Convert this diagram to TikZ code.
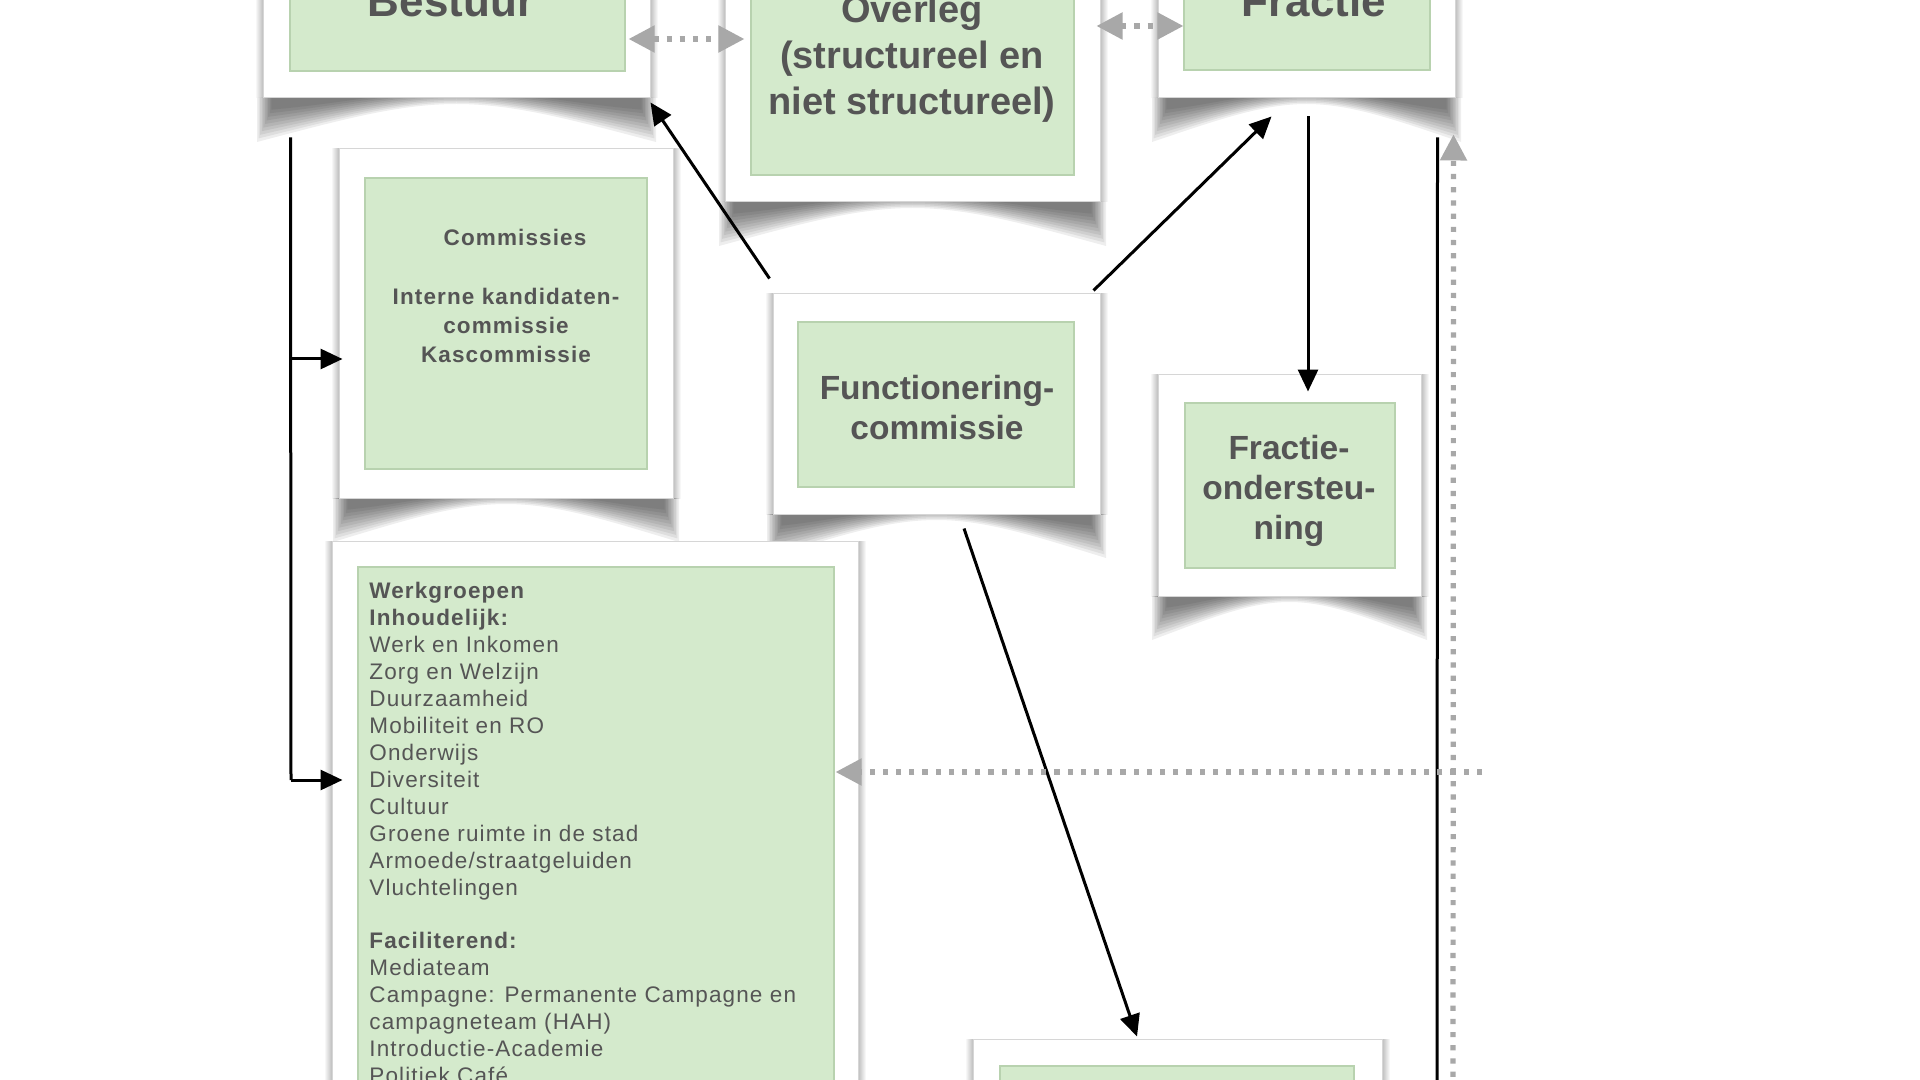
\documentclass[tikz,border=0pt]{standalone}
\usepackage{fontspec}
\setmainfont{Liberation Sans}
\newfontfamily\trackfont[LetterSpace=5]{Liberation Sans}
\usetikzlibrary{arrows.meta,calc,fit}
\definecolor{boxgreen}{HTML}{D4EACC}
\definecolor{boxgreenedge}{HTML}{B8D2AF}
\definecolor{txtgray}{HTML}{555555}
\definecolor{dotgray}{HTML}{A8A8A8}
\tikzset{
  outerbox/.style={draw=black!16, line width=0.5pt, fill=white, inner sep=0pt},
  greenbox/.style={draw=boxgreenedge, line width=0.6pt, fill=boxgreen, inner sep=0pt},
  headtext/.style={text=txtgray, inner sep=0pt, font=\bfseries\fontsize{22pt}{26pt}\selectfont},
  overtext/.style={text=txtgray, inner sep=0pt, align=center, font=\bfseries\fontsize{19pt}{23pt}\selectfont},
  midtext/.style={text=txtgray, inner sep=0pt, align=center, font=\bfseries\fontsize{16.75pt}{20pt}\selectfont},
  smalltext/.style={text=txtgray, inner sep=0pt, align=center, font=\trackfont\bfseries\fontsize{11.25pt}{14.65pt}\selectfont},
  listtext/.style={text=txtgray, inner sep=0pt, align=left, font=\trackfont\fontsize{11.25pt}{13.47pt}\selectfont},
  blackline/.style={line width=1.5pt, black},
  blackarrow/.style={line width=1.5pt, black, -{Triangle[length=11pt,width=10pt]}},
  grayline/.style={dotgray, line width=2.6pt, dash pattern=on 2.6pt off 4pt},
  grayarrow/.style={grayline, -{Triangle[length=13pt,width=13pt]}},
  graydouble/.style={grayline, {Triangle[length=13pt,width=13pt]}-{Triangle[length=13pt,width=13pt]}},
}
% curled shadow below a framed box: #1 left, #2 right, #3 bottom (px)
\newcommand\curlshadow[3]{%
  \foreach \k in {0,...,9}{%
    \pgfmathsetmacro\shCx{(#1+#2)/2}%
    \pgfmathsetmacro\shW{#2-#1}%
    \pgfmathsetmacro\shDep{44-3.6*\k}%
    \pgfmathsetmacro\shD{#3+\shDep}%
    \pgfmathsetmacro\shE{#3+6-1.5*\k}%
    \pgfmathsetmacro\shXl{#1-6+1.6*\k}%
    \pgfmathsetmacro\shXr{#2+6-1.6*\k}%
    \pgfmathsetmacro\shYm{#3+0.5*\shDep}%
    \pgfmathsetmacro\shXra{#2-0.2*\shW}%
    \pgfmathsetmacro\shXrb{\shCx+0.15*\shW}%
    \pgfmathsetmacro\shXla{#1+0.2*\shW}%
    \pgfmathsetmacro\shXlb{\shCx-0.15*\shW}%
    \fill[black,opacity=0.065] (\shXl,#3) -- (\shXr,#3) -- (\shXr,\shD)
      .. controls (\shXra,\shYm) and (\shXrb,\shE) .. (\shCx,\shE)
      .. controls (\shXlb,\shE) and (\shXla,\shYm) .. (\shXl,\shD) -- cycle;
  }%
}
% soft side shadows: #1 left, #2 top, #3 right, #4 bottom
\newcommand\sideshadow[4]{%
  \shade[left color=white, right color=black!26] (#1-8,#2) rectangle (#1,#4);
  \shade[left color=black!26, right color=white] (#3,#2) rectangle (#3+8,#4);
}
% framed box: name, outer L T R B, green L T R B
\newcommand\photobox[9]{%
  \node[outerbox, fit={(#2,#3) (#4,#5)}] (#1) {};
  \node[greenbox, fit={(#6,#7) (#8,#9)}] (#1-g) {};
}
\begin{document}
\begin{tikzpicture}[x=0.5pt,y=-0.5pt]
\useasboundingbox (0,0) rectangle (1920,1080);
\clip (0,0) rectangle (1920,1080);
\fill[white] (0,0) rectangle (1920,1080);

% shadows
\sideshadow{263}{-30}{650}{98}
\sideshadow{725}{-30}{1100}{202}
\sideshadow{1158}{-30}{1455}{98}
\sideshadow{339}{149}{673}{498}
\sideshadow{773}{294}{1100}{514}
\sideshadow{1158}{374}{1421}{596}
\sideshadow{332}{541}{858}{1120}
\sideshadow{973}{1039}{1382}{1120}
\curlshadow{263}{650}{98}
\curlshadow{725}{1100}{202}
\curlshadow{1158}{1455}{98}
\curlshadow{339}{673}{498}
\curlshadow{773}{1100}{514}
\curlshadow{1158}{1421}{596}

% boxes
\photobox{bestuur}{263}{-30}{650}{98}{290}{-30}{625}{71}
\photobox{overleg}{725}{-30}{1100}{202}{751}{-30}{1074}{175}
\photobox{fractie}{1158}{-30}{1455}{98}{1184}{-30}{1430}{70}
\photobox{commissies}{339}{149}{673}{498}{365}{178}{647}{469}
\photobox{func}{773}{294}{1100}{514}{798}{322}{1074}{487}
\photobox{fond}{1158}{374}{1421}{596}{1185}{403}{1395}{568}
\photobox{werk}{332}{541}{858}{1120}{358}{567}{834}{1120}
\photobox{bottom}{973}{1039}{1382}{1120}{1000}{1066}{1354}{1120}

% texts
\node[headtext, anchor=base] (bestuur-t) at (451,17) {Bestuur};
\node[headtext, anchor=base] (fractie-t) at (1314,17) {Fractie};
\node[overtext] (overleg-t) at (912,59) {Overleg\\(structureel en\\niet structureel)};
\node[smalltext] (commissies-t) at (506,296) {\hspace*{9pt}Commissies\\[14.65pt]Interne kandidaten-\\commissie\\Kascommissie};
\node[midtext] (func-t) at (937,408) {Functionering-\\commissie};
\node[midtext] (fond-t) at (1289,491) {Fractie-\\ondersteu-\\ning};
\node[listtext, anchor=north west] (werk-t) at (369,582) {\textbf{Werkgroepen}\\
\textbf{Inhoudelijk:}\\
Werk en Inkomen\\
Zorg en Welzijn\\
Duurzaamheid\\
Mobiliteit en RO\\
Onderwijs\\
Diversiteit\\
Cultuur\\
Groene ruimte in de stad\\
Armoede/straatgeluiden\\
Vluchtelingen\\[13.47pt]
\textbf{Faciliterend:}\\
Mediateam\\
Campagne: Permanente Campagne en\\
campagneteam (HAH)\\
Introductie-Academie\\
Politiek Café};

% free ends
\coordinate (ltop) at ($(bestuur.south west)+(28,39)$);
\coordinate (lmid) at (291,359);
\coordinate (lbot) at (291,780);
\coordinate (rtop) at ($(fractie.south east)+(-18,39)$);
\coordinate (rbot) at (1437,1090);
\coordinate (gbot) at (1453,1090);
\coordinate (gright) at (1482,772);

% black connectors
\draw[blackline] (ltop) -- (lbot);
\draw[blackarrow] (lmid) -- ($(lmid -| commissies.west)+(4,0)$);
\draw[blackarrow] (lbot) -- ($(lbot -| werk.west)+(11,0)$);
\draw[blackarrow] ($(func.north west)+(-3,-15)$) -- ($(bestuur.south east)+(0,4)$);
\draw[blackarrow] ($(func.north east)+(-7,-3)$) -- ($(fractie.south)+(-35,18)$);
\draw[blackarrow] ($(fractie.south)+(1.5,18)$) -- ($(fond.north)+(18.5,18)$);
\draw[blackarrow] ($(func.south)+(27.5,14)$) -- ($(bottom.north)+(-40.5,-2)$);
\draw[blackline] (rtop) -- (rbot);

% gray dotted connectors
\draw[graydouble] ($(bestuur-g.east |- 0,39)+(3,0)$) -- ($(overleg-g.west |- 0,39)+(-6,0)$);
\draw[graydouble] ($(overleg.east |- 0,26)+(-4,0)$) -- (fractie-g.west |- 0,26);
\draw[grayarrow] (gbot) -- ($(fractie.south east)+(-2,36)$);
\draw[grayarrow] (gright) -- ($(gright -| werk-g.east)+(1,0)$);
\end{tikzpicture}
\end{document}
